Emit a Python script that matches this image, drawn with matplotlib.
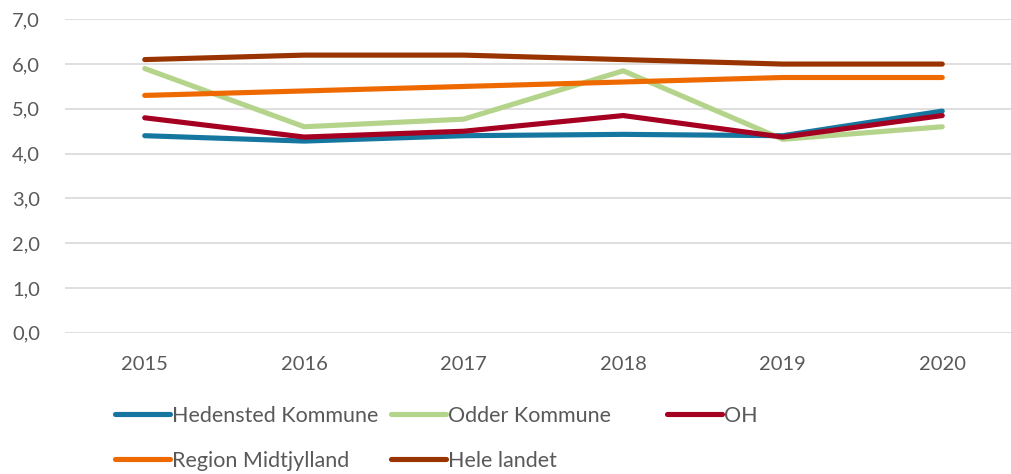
import matplotlib
matplotlib.use("Agg")
import matplotlib.pyplot as plt
from matplotlib.lines import Line2D

years = ["2015", "2016", "2017", "2018", "2019", "2020"]
hedensted = [4.4, 4.28, 4.4, 4.43, 4.4, 4.95]
odder = [5.9, 4.6, 4.77, 5.85, 4.32, 4.6]
oh = [4.8, 4.37, 4.5, 4.85, 4.37, 4.85]
region = [5.3, 5.4, 5.5, 5.6, 5.7, 5.7]
hele = [6.1, 6.2, 6.2, 6.1, 6.0, 6.0]

series_names = ["Hedensted Kommune", "Odder Kommune", "OH", "Region Midtjylland", "Hele landet"]
colors = ["#1577A0", "#B3D48A", "#A50021", "#EE6A00", "#993300"]
yticks = [0, 1, 2, 3, 4, 5, 6, 7]
ytick_labels = ["0,0", "1,0", "2,0", "3,0", "4,0", "5,0", "6,0", "7,0"]

plt.rcParams['font.family'] = ['Lato', 'DejaVu Sans']
text_color = "#595959"

W, H = 1011, 474
fig = plt.figure(figsize=(W / 100, H / 100), dpi=100)
left, right = 65 / W, 1022 / W
top, bottom = 1 - 19.3 / H, 1 - 332.7 / H
ax = fig.add_axes([left, bottom, right - left, top - bottom])

data = [hedensted, odder, oh, region, hele]
x = list(range(len(years)))
handles = []
for vals, c, name in zip(data, colors, series_names):
    ln, = ax.plot(x, vals, color=c, lw=3.7, solid_capstyle='round',
                  solid_joinstyle='round', label=name, zorder=3)
    handles.append(ln)

ax.set_xlim(-0.5, len(years) - 0.5)
ax.set_ylim(0, 7)
ax.set_yticks(yticks)
ax.set_yticklabels(ytick_labels)
ax.set_xticks(x)
ax.set_xticklabels(years)
ax.grid(axis='y', color='#D9D9D9', lw=1.2, zorder=0)
ax.set_axisbelow(True)
for s in ax.spines.values():
    s.set_visible(False)
ax.tick_params(axis='both', length=0, labelsize=14.5, colors=text_color)
ax.tick_params(axis='y', pad=18)
ax.tick_params(axis='x', pad=17)

# legend: equal-width columns, placed per entry
col_x = [115, 391, 667]
row_y = [416, 461]
positions = [(0, 0), (1, 0), (2, 0), (0, 1), (1, 1)]
for h, (c, r) in zip(handles, positions):
    fig.legend(handles=[Line2D([], [], color=h.get_color(), lw=3.7,
                               solid_capstyle='round')],
               labels=[h.get_label()], loc='center left',
               bbox_to_anchor=(col_x[c] / W, 1 - row_y[r] / H),
               frameon=False, fontsize=15.5, handlelength=2.55,
               handletextpad=0.12, borderpad=0, borderaxespad=0,
               labelcolor=text_color)

fig.savefig("out.png", dpi=100)
